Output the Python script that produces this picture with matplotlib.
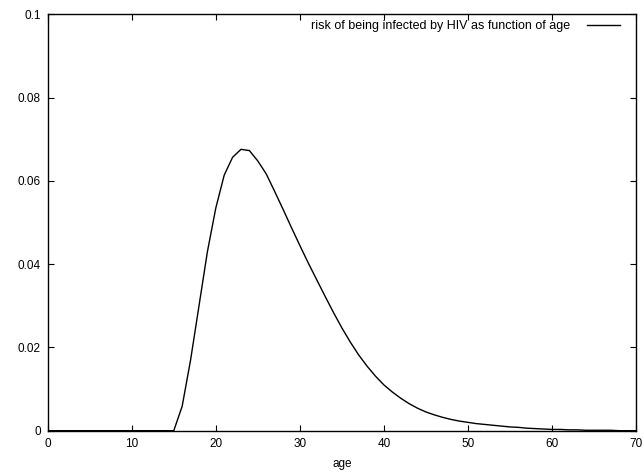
import matplotlib
matplotlib.use("Agg")
import matplotlib.pyplot as plt
from matplotlib.ticker import MultipleLocator, FuncFormatter

plt.rcParams['font.family'] = ['Liberation Sans', 'DejaVu Sans']

ages = list(range(0, 71))
risk = ([0.0] * 16 +
        [0.0059, 0.0170, 0.0300, 0.0430, 0.0535, 0.0614, 0.0657, 0.0676, 0.0673,
         0.0648, 0.0617, 0.0575, 0.0532, 0.0488, 0.0445, 0.0403, 0.0363, 0.0323,
         0.0284, 0.0247, 0.0213, 0.0182, 0.0155, 0.0131, 0.0110, 0.0093, 0.0078,
         0.0065, 0.0054, 0.0045, 0.0038, 0.0032, 0.0027, 0.0023, 0.0020, 0.0017,
         0.0015, 0.0013, 0.0011, 0.0009, 0.0008, 0.0006, 0.0005, 0.0004, 0.0003,
         0.0003, 0.0002, 0.0002, 0.0001, 0.0001, 0.0001, 0.0001, 0.0000, 0.0,
         0.0])
series_label = "risk of being infected by HIV as function of age"
x_label = "age"

W, H = 644, 475
fig = plt.figure(figsize=(W / 100, H / 100), dpi=100)
ax = fig.add_axes([0.0741, 0.0933, 0.9876 - 0.0741, 0.9695 - 0.0933])
ax.plot(ages, risk, color='black', lw=1.0, label=series_label)
ax.set_xlim(0, 70)
ax.set_ylim(0, 0.1)
ax.xaxis.set_major_locator(MultipleLocator(10))
ax.yaxis.set_major_locator(MultipleLocator(0.02))
ax.yaxis.set_major_formatter(FuncFormatter(lambda v, p: '%g' % round(v, 4)))
ax.tick_params(direction='in', length=4, width=0.8, top=True, right=True,
               labelsize=8.5, pad=5)
for s in ax.spines.values():
    s.set_linewidth(1.0)
ax.set_xlabel(x_label, fontsize=8.5, labelpad=6)
ax.legend(loc='upper right', frameon=False, markerfirst=False, fontsize=9,
          handlelength=2.64, handletextpad=1.36, borderaxespad=0, borderpad=0,
          bbox_to_anchor=(620 / W, (H - 20) / H), bbox_transform=fig.transFigure)
fig.savefig("out.png", dpi=100)
